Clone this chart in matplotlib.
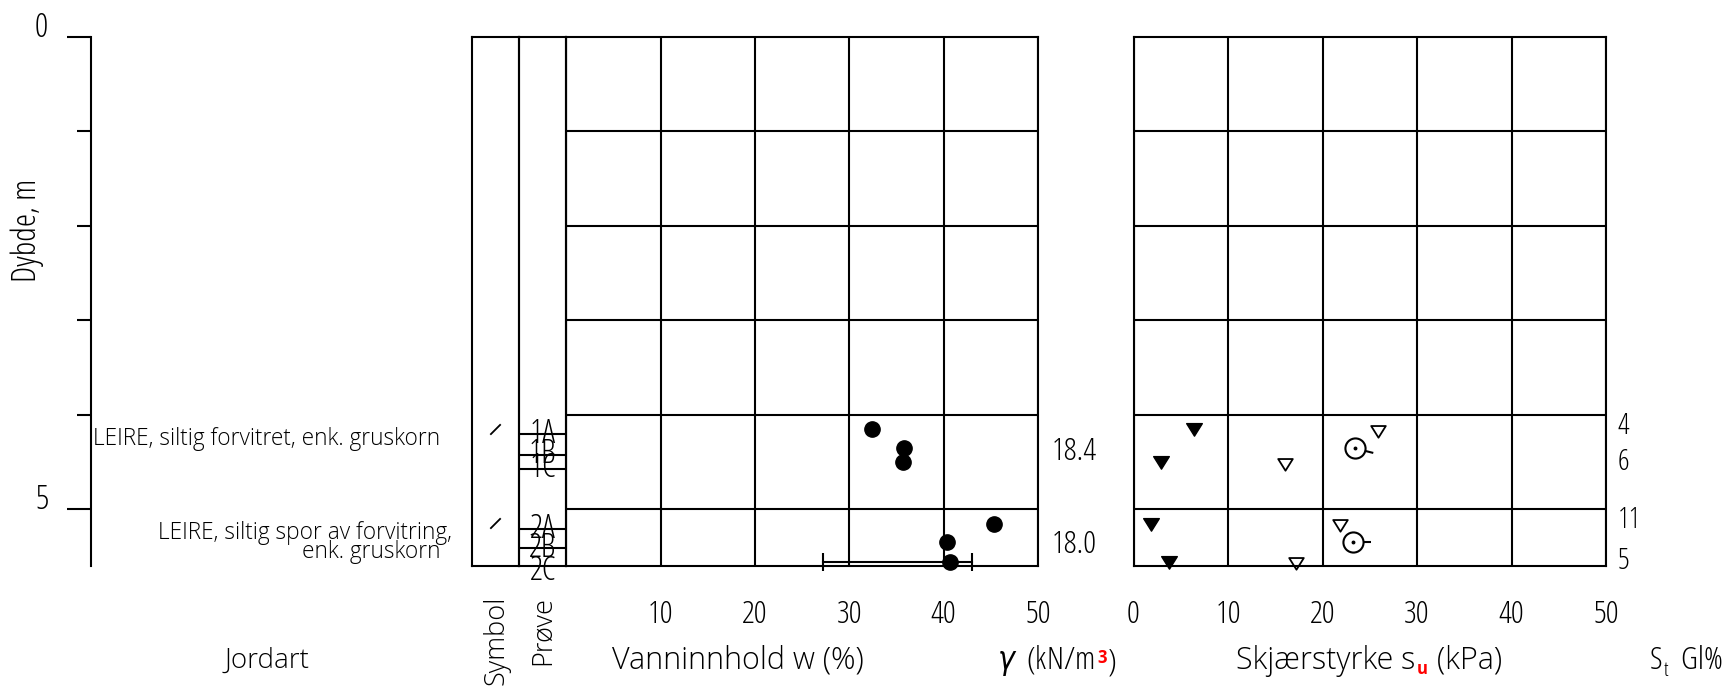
import numpy as np
import matplotlib
matplotlib.use('Agg')
import matplotlib.pyplot as plt
from matplotlib.path import Path
from matplotlib.markers import MarkerStyle
from matplotlib.transforms import Affine2D

plt.rcParams['font.family'] = ['Open Sans', 'DejaVu Sans']
plt.rcParams['font.stretch'] = 'condensed'
plt.rcParams['font.weight'] = 'light'

layer_top = [4.0, 5.0]
jordart = ['LEIRE, siltig forvitret, enk. gruskorn  ',
           'LEIRE, siltig spor av forvitring,\nenk. gruskorn  ']

sample_ids = ['1A', '1B', '1C', '2A', '2B', '2C']
sample_depth = [4.20, 4.42, 4.57, 5.21, 5.41, 5.66]

w_depth = [4.15, 4.35, 4.50, 5.16, 5.35, 5.56]
w_value = [32.4, 35.8, 35.7, 45.3, 40.4, 40.7]

limits_depth = 5.56
w_plastic, w_liquid = 27.2, 43.0

gamma_depth = [4.39, 5.38]
gamma_value = ['18.4', '18.0']

su_rem_depth = [4.15, 4.50, 5.16, 5.56]
su_rem = [6.4, 2.9, 1.9, 3.8]
su_und_depth = [4.17, 4.52, 5.17, 5.57]
su_und = [25.9, 16.0, 21.8, 17.2]
su_ucs_depth = [4.35, 5.35]
su_ucs = [23.4, 23.2]
ucs_tail_deg = [-14, 0]

st_depth = [4.12, 4.50, 5.12, 5.55]
st_value = ['4', '6', '11', '5']

depth_max = 5.6
w_ticks = [0, 10, 20, 30, 40, 50]

# --- layout (pixels) ---
W, H = 1728, 688
TOP, BOT = 37, 566
LW = 1.5
WIDE = 'normal'   # stretch used for the worded labels

fig = plt.figure(figsize=(W / 100, H / 100), dpi=100)

ax_bg = fig.add_axes([0, 0, 1, 1])
ax_bg.set_xlim(0, W)
ax_bg.set_ylim(H, 0)
ax_bg.axis('off')


def px_axes(x0, x1):
    a = fig.add_axes([x0 / W, 1 - BOT / H, (x1 - x0) / W, (BOT - TOP) / H])
    a.set_ylim(depth_max, 0)
    a.patch.set_visible(False)
    for s in a.spines.values():
        s.set_linewidth(LW)
    return a


# depth axis
ax_d = px_axes(90.7, 471.7)
ax_d.set_xlim(90.7, 471.7)
for s in ['top', 'right', 'bottom']:
    ax_d.spines[s].set_visible(False)
ax_d.set_xticks([])
ax_d.set_yticks([0, 5], ['0', '5'])
ax_d.set_yticks([1, 2, 3, 4], minor=True)
ax_d.tick_params(which='major', length=17, width=LW, pad=13.5, labelsize=24)
ax_d.tick_params(which='minor', length=10, width=LW)
for t in ax_d.get_yticklabels():
    t.set_verticalalignment('baseline')
for top, txt in zip(layer_top, jordart):
    ax_d.text(452, top + 0.125, txt, ha='right', va='top', fontsize=16.3,
              fontstretch=WIDE, multialignment='right', linespacing=0.72)

# symbol column
ax_sym = px_axes(471.7, 519)
ax_sym.set_xlim(0, 1)
ax_sym.set_xticks([])
ax_sym.set_yticks([])
slash = MarkerStyle([(-1, -1), (1, 1)], fillstyle='none')
ax_sym.plot([0.5] * len(layer_top), [t + 0.15 for t in layer_top], ls='none',
            marker=slash, ms=7.5, mew=1.3, color='k')

# sample column
ax_pr = px_axes(519, 566.4)
ax_pr.set_xlim(0, 1)
ax_pr.set_xticks([])
ax_pr.set_yticks([])
ax_pr.hlines(sample_depth, 0, 1, color='k', lw=LW)
for sid, d in zip(sample_ids, sample_depth):
    ax_pr.text(0.5, d, sid, ha='center', va='center', fontsize=23.5, clip_on=False)

# water content
ax_w = px_axes(566.4, 1038)
ax_w.set_xlim(0, 50)
ax_w.set_xticks(w_ticks, [''] + [str(v) for v in w_ticks[1:]])
ax_w.set_yticks([1, 2, 3, 4, 5])
ax_w.tick_params(axis='x', length=0, pad=24, labelsize=23)
ax_w.tick_params(axis='y', length=0, labelleft=False)
ax_w.grid(True, color='k', lw=LW)
ax_w.set_axisbelow(True)
ax_w.plot(w_value, w_depth, 'o', color='k', ms=11, clip_on=False)
ax_w.plot([w_plastic, w_liquid], [limits_depth, limits_depth], color='k', lw=LW,
          marker='|', ms=13, mew=LW, clip_on=False)

# unit weight column
ax_g = px_axes(1038, 1133.5)
ax_g.set_xlim(1038, 1133.5)
ax_g.axis('off')
for d, g in zip(gamma_depth, gamma_value):
    ax_g.text(1052, d, g, ha='left', va='center', fontsize=23)

# shear strength
ax_su = px_axes(1133.5, 1606)
ax_su.set_xlim(0, 50)
ax_su.set_xticks(w_ticks, [str(v) for v in w_ticks])
ax_su.set_yticks([1, 2, 3, 4, 5])
ax_su.tick_params(axis='x', length=0, pad=24, labelsize=23)
ax_su.tick_params(axis='y', length=0, labelleft=False)
ax_su.grid(True, color='k', lw=LW)
ax_su.set_axisbelow(True)
tri = Path([(-1, 0.75), (1, 0.75), (0, -0.85), (0, 0)], closed=True)
ax_su.plot(su_rem, su_rem_depth, ls='none', marker=tri, ms=11.3,
           color='k', clip_on=False)
ax_su.plot(su_und, su_und_depth, ls='none', marker=tri, ms=10.5,
           mfc='white', mec='k', mew=1.3, clip_on=False)
for x, d, ang in zip(su_ucs, su_ucs_depth, ucs_tail_deg):
    tail = MarkerStyle(Path([(0.56, 0), (1, 0)]), fillstyle='none',
                       transform=Affine2D().rotate_deg(ang))
    ax_su.plot([x], [d], ls='none', marker=tail, ms=26.4, mew=LW, mec='k')
    ax_su.plot([x], [d], ls='none', marker='o', ms=14.5, mfc='white', mec='k', mew=LW)
    ax_su.plot([x], [d], ls='none', marker='o', ms=1.8, color='k')

# sensitivity column
ax_st = px_axes(1606, 1728)
ax_st.set_xlim(1606, 1728)
ax_st.axis('off')
for d, s in zip(st_depth, st_value):
    ax_st.text(1618, d, s, ha='left', va='center', fontsize=21)

# --- headers along the bottom ---
FS = 23
FSW = 22
ax_bg.text(27.5, 230, 'Dybde, m', rotation=90, ha='center', va='center', fontsize=24)
ax_bg.text(266.7, 661, 'Jordart', ha='center', va='center', fontsize=20,
           fontstretch=WIDE)
ax_bg.text(497, 596, 'Symbol', rotation=90, ha='center', va='top', fontsize=19.5,
           fontstretch=WIDE)
ax_bg.text(543, 596, 'Prøve', rotation=90, ha='center', va='top', fontsize=19.5,
           fontstretch=WIDE)
ax_bg.text(738, 661, 'Vanninnhold w (%)', ha='center', va='center', fontsize=FSW,
           fontstretch=WIDE)

t1 = ax_bg.text(997, 661, r'$\gamma$  (kN/m', ha='left', va='center', fontsize=FS)
t2 = ax_bg.annotate('3', xy=(1, 0), xycoords=t1, xytext=(2, 8),
                    textcoords='offset points', color='red', fontsize=12,
                    fontweight='bold', ha='left', va='bottom')
ax_bg.annotate(')', xy=(1, 0), xycoords=(t2, t1), xytext=(1, 0),
               textcoords='offset points', fontsize=FS, ha='left', va='bottom')

t3 = ax_bg.text(1236, 661, 'Skjærstyrke s', ha='left', va='center', fontsize=FSW,
                fontstretch=WIDE)
t4 = ax_bg.annotate('u', xy=(1, 0), xycoords=t3, xytext=(1, -1),
                    textcoords='offset points', color='red', fontsize=12,
                    fontweight='bold', ha='left', va='bottom')
ax_bg.annotate(' (kPa)', xy=(1, 0), xycoords=(t4, t3), xytext=(1, 0),
               textcoords='offset points', fontsize=FSW, ha='left', va='bottom',
               fontstretch=WIDE)

t5 = ax_bg.text(1650, 661, 'S', ha='left', va='center', fontsize=FS)
t6 = ax_bg.annotate('t', xy=(1, 0), xycoords=t5, xytext=(1, -3),
                    textcoords='offset points', fontsize=15,
                    ha='left', va='bottom')
ax_bg.annotate('  Gl%', xy=(1, 0), xycoords=(t6, t5), xytext=(0, 0),
               textcoords='offset points', fontsize=FS, ha='left', va='bottom')

fig.savefig('out.png', dpi=100)
